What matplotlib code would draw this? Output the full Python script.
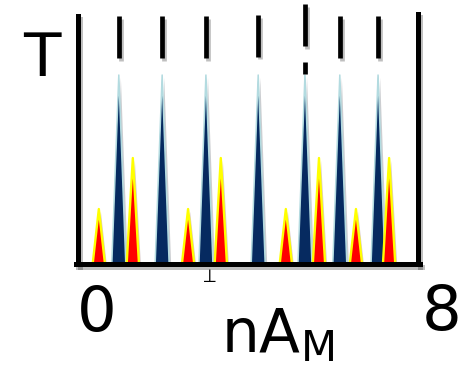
import numpy as np
import matplotlib.pyplot as plt
import matplotlib.patheffects as pe

# peak positions (x in 0..8) and heights (0..1 of the axis height)
blue_x = [0.96, 1.98, 3.01, 4.24, 5.34, 6.16, 7.06]
blue_h = [0.756, 0.756, 0.756, 0.756, 0.756, 0.756, 0.756]
red_small_x = [0.49, 2.59, 4.89, 6.54]
red_small_h = [0.22, 0.22, 0.22, 0.22]
red_tall_x = [1.29, 3.36, 5.67, 7.32]
red_tall_h = [0.424, 0.424, 0.424, 0.424]
tick_x = [0.96, 1.98, 3.01, 4.24, 5.34, 6.16, 7.06]
tick_lo = [0.824, 0.824, 0.824, 0.830, 0.872, 0.824, 0.824]
tick_hi = [0.992, 0.992, 0.992, 0.996, 1.040, 0.992, 0.992]

shadow = [pe.SimpleLineShadow(offset=(1.5, -2), alpha=0.25), pe.Normal()]
pshadow = [pe.SimplePatchShadow(offset=(1.5, -2), alpha=0.2), pe.Normal()]

fig = plt.figure(figsize=(4.69, 3.68), dpi=100)
ax = fig.add_axes([78/469, 104/368, 340/469, 250/368])
ax.set_xlim(0, 8)
ax.set_ylim(0, 1)
ax.axis('off')


def spike(x, h, hw, face, edge, lw):
    xs = [x - hw, x, x + hw]
    ys = [0, h, 0]
    ax.fill(xs, ys, facecolor=face, edgecolor=edge, linewidth=lw,
            joinstyle='round', path_effects=pshadow, zorder=3)


for x, h in zip(blue_x, blue_h):
    spike(x, h, 0.165, '#062a60', '#b3dbe0', 1.1)
for x, h in zip(red_small_x, red_small_h):
    spike(x, h, 0.145, '#ff0000', '#ffff00', 1.7)
for x, h in zip(red_tall_x, red_tall_h):
    spike(x, h, 0.145, '#ff0000', '#ffff00', 1.7)

# vertical marks at the top
for x, lo, hi in zip(tick_x, tick_lo, tick_hi):
    ax.plot([x, x], [lo, hi], color='black', lw=3.4, solid_capstyle='butt',
            clip_on=False, path_effects=shadow, zorder=5)
ax.plot([5.34, 5.34], [0.760, 0.810], color='black', lw=3.4,
        solid_capstyle='butt', clip_on=False, zorder=5)

# frame: left, right and bottom
ax.plot([0, 0], [0, 0.992], color='black', lw=3.6, clip_on=False,
        path_effects=shadow, zorder=6)
ax.plot([8, 8], [0, 1.0], color='black', lw=3.6, clip_on=False,
        path_effects=shadow, zorder=6)
ax.plot([-0.05, 8.05], [0, 0], color='black', lw=3.6, clip_on=False,
        path_effects=shadow, zorder=6)

fig.text(42/469, 1 - 60/368, 'T', fontsize=44, ha='center', va='center')
fig.text(97/469, 1 - 314/368, '0', fontsize=45, ha='center', va='center')
fig.text(442/469, 1 - 313/368, '8', fontsize=45, ha='center', va='center')
fig.text(221/469, 1 - 352/368, r'nA$_{\mathregular{M}}$', fontsize=43,
         ha='left', va='baseline')
fig.text(208/469, 1 - 276/368, r'$\perp$', fontsize=14, ha='center', va='center')

plt.savefig('out.png', dpi=100)
